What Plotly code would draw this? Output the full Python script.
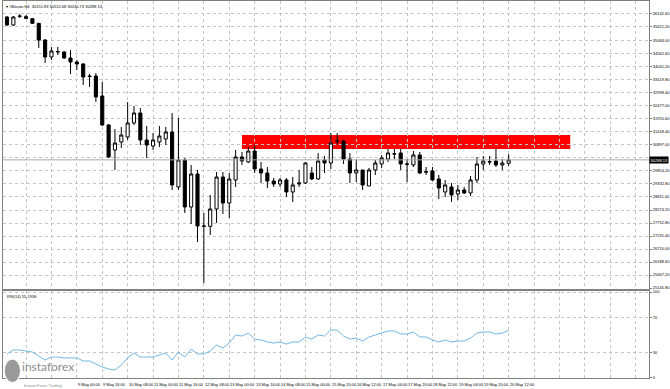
import plotly.graph_objects as go

# ---------------- data ----------------
opens = [36022, 35701, 36060, 36034, 35954, 35769, 35099, 34417, 34617, 34617,
         34377, 34216, 34136, 33654, 33654, 32852, 31688, 30684, 31006, 31206,
         31768, 32169, 31086, 30845, 31006, 31126, 31407, 29200, 30283, 28397,
         29721, 27635, 27620, 28317, 29601, 28558, 29481, 30404, 30203, 30644,
         29922, 29762, 29440, 29320, 29481, 28999, 29320, 29360, 29762, 29521,
         30283, 30163, 31046, 31046, 30323, 29762, 29882, 29240, 29882, 30123,
         30323, 30524, 30564, 30123, 30083, 30484, 29790, 29842, 29521, 28999,
         29200, 28919, 29079, 28959, 29481, 30123, 30203, 30243, 30083, 30151.83]
highs = [36062, 36062, 36143, 36102, 35982, 35781, 35139, 34818, 34818, 34658,
         34698, 34296, 34176, 33735, 33775, 33413, 31728, 31527, 31607, 32611,
         32450, 32370, 31648, 31367, 31648, 31607, 32169, 31969, 30363, 30083,
         29882, 28156, 28879, 29802, 29802, 29762, 30684, 30604, 30805, 30885,
         30203, 30002, 29561, 29561, 29561, 29601, 29882, 30203, 30002, 30564,
         30444, 31367, 31367, 31086, 30564, 30283, 29882, 29962, 30283, 30484,
         30725, 30725, 30725, 30323, 30644, 30604, 30002, 30002, 29681, 29481,
         29360, 29280, 29200, 29641, 30404, 30444, 30444, 30725, 30323, 30512.68]
lows = [35661, 35661, 35982, 35942, 35741, 34778, 34176, 34296, 34497, 34337,
        33735, 33895, 33293, 33213, 32611, 31648, 30363, 29882, 30765, 31086,
        31688, 30885, 30363, 30684, 30805, 30885, 29079, 29079, 28156, 27715,
        26993, 25347, 27273, 27755, 28116, 27956, 29200, 30083, 30163, 29762,
        29360, 29160, 29200, 29200, 28798, 28598, 29200, 29320, 29481, 29481,
        29762, 29922, 30925, 30123, 29360, 29400, 29079, 29240, 29681, 29962,
        30203, 30323, 29882, 29400, 30002, 29722, 29681, 29440, 28718, 28798,
        28598, 28678, 28919, 28839, 29360, 29882, 30083, 30002, 29882, 30030.73]
closes = [35701, 36022, 36050, 35970, 35769, 35099, 34417, 34658, 34638, 34377,
          34216, 34136, 33614, 33634, 32812, 31688, 30404, 30965, 31286, 31768,
          32169, 31086, 30885, 31086, 31246, 31407, 29280, 30283, 28397, 29721,
          27635, 27620, 28317, 29601, 28558, 29521, 30404, 30243, 30644, 29922,
          29762, 29440, 29320, 29481, 28999, 29280, 29360, 30163, 29521, 30243,
          30163, 30965, 31040, 30323, 29762, 29882, 29280, 29882, 30163, 30363,
          30564, 30530, 30123, 30115, 30484, 29762, 29810, 29481, 29160, 29280,
          28879, 29079, 28959, 29481, 30123, 30243, 30210, 30083, 30163, 30288.13]
rsi = [27.9, 32.6, 32.6, 31.4, 30.2, 25.6, 20.9, 24.4, 24.4, 23.3,
       23.3, 23.3, 19.8, 19.8, 16.3, 12.8, 10.5, 9.3, 15.1, 23.3,
       29.1, 24.4, 24.4, 24.4, 26.7, 29.1, 20.9, 30.2, 24.4, 33.7,
       27.9, 27.9, 31.4, 38.4, 34.9, 40.7, 50.0, 48.8, 52.3, 45.3,
       44.2, 41.9, 40.7, 41.9, 39.5, 41.9, 41.9, 47.7, 45.3, 50.0,
       48.8, 55.8, 55.8, 48.8, 45.3, 46.5, 43.0, 47.7, 50.0, 52.3,
       54.7, 54.7, 51.2, 51.2, 53.5, 47.7, 47.7, 44.2, 41.9, 44.2,
       41.9, 43.0, 43.0, 46.5, 52.3, 53.5, 53.5, 51.2, 52.3, 55.19]
bar_index = list(range(len(closes)))

time_label_index = [11, 15, 19, 23, 27, 31, 35, 39, 43, 47, 51, 55, 59, 63, 67, 71, 75, 79]
time_labels = ["9 May 00:00", "9 May 16:00", "10 May 08:00", "11 May 00:00", "11 May 16:00",
               "12 May 08:00", "13 May 00:00", "13 May 16:00", "14 May 08:00", "15 May 00:00",
               "15 May 20:00", "16 May 12:00", "17 May 04:00", "17 May 20:00", "18 May 12:00",
               "19 May 04:00", "19 May 20:00", "20 May 12:00"]
grid_index = list(range(-1, 101, 4))

price_ticks = [36142.60, 35621.20, 35084.00, 34562.60, 34041.20, 33519.80, 32998.40,
               32477.00, 31955.60, 31418.40, 30897.00, 30375.60, 29854.20, 29332.80,
               28811.40, 28274.20, 27752.80, 27231.40, 26710.00, 26188.60, 25667.20, 25145.80]
rsi_ticks = [0, 30, 70, 100]

zone_start, zone_end = 37, 88.7
zone_top, zone_bottom = 31286, 30725

title_text = "#Bitcoin,H4  30151.83 30512.68 30030.73 30288.13"
rsi_text = "RSI(14) 55.1936"
last_price = closes[-1]

# ---------------- figure ----------------
FONT = "Liberation Sans, Arial, sans-serif"
GRID = "#c4c4c4"
FRAME = "#808080"
FS = 4

# the current-price label covers the axis label nearest to it
price_ticktext = ["" if abs(v - last_price) < 150 else f"{v:.2f}" for v in price_ticks]

fig = go.Figure()
fig.add_trace(go.Candlestick(
    x=bar_index, open=opens, high=highs, low=lows, close=closes,
    increasing=dict(line=dict(color="black", width=1), fillcolor="white"),
    decreasing=dict(line=dict(color="black", width=1), fillcolor="black"),
    whiskerwidth=0, xaxis="x", yaxis="y", showlegend=False, hoverinfo="skip"))
fig.add_trace(go.Scatter(
    x=bar_index, y=rsi, mode="lines", line=dict(color="#72b6e2", width=1),
    xaxis="x2", yaxis="y2", showlegend=False, hoverinfo="skip"))

xr = [-0.63, 101.1]
common_x = dict(range=xr, tickvals=grid_index, ticktext=[""] * len(grid_index),
                showgrid=True, gridcolor=GRID, griddash="dot", gridwidth=1,
                showline=True, linecolor=FRAME, linewidth=1, mirror=True,
                zeroline=False, ticks="", fixedrange=True)
common_y = dict(side="right", showgrid=True, gridcolor=GRID, griddash="dot",
                showline=True, linecolor=FRAME, mirror=True, zeroline=False,
                ticks="outside", ticklen=2, tickcolor=FRAME, fixedrange=True,
                tickfont=dict(size=FS, family=FONT, color="black"))
fig.update_layout(
    width=670, height=389,
    margin=dict(l=3, r=21, t=1, b=11, autoexpand=False),
    paper_bgcolor="white", plot_bgcolor="white",
    font=dict(family=FONT, size=FS, color="black"),
    xaxis=dict(domain=[0, 1], anchor="y", rangeslider=dict(visible=False), **common_x),
    xaxis2=dict(domain=[0, 1], anchor="y2", matches="x", **common_x),
    yaxis=dict(domain=[0.2361, 1], range=[25106, 36664],
               tickvals=price_ticks, ticktext=price_ticktext, **common_y),
    yaxis2=dict(domain=[0, 0.2308], range=[0, 101.2],
                tickvals=rsi_ticks, ticktext=[str(v) for v in rsi_ticks], **common_y),
)

shapes = [
    dict(type="rect", xref="x", yref="y", x0=zone_start, x1=zone_end,
         y0=zone_bottom, y1=zone_top, fillcolor="#ff0000", line=dict(width=0), layer="below"),
    dict(type="line", xref="paper", yref="y", x0=0, x1=1, y0=last_price, y1=last_price,
         line=dict(color="#a8a8a8", width=1)),
    dict(type="line", xref="paper", yref="paper", x0=0, x1=1, y0=0.2335, y1=0.2335,
         line=dict(color=FRAME, width=2)),
    dict(type="circle", xref="paper", yref="paper", x0=0.002, x1=0.027, y0=-0.012, y1=0.05,
         fillcolor="#9a9a9a", line=dict(color="white", width=1)),
]
fig.update_layout(shapes=shapes)

ann = []
for i, t in zip(time_label_index, time_labels):
    ann.append(dict(x=i, xref="x2", y=0, yref="paper", text=t, showarrow=False,
                    xanchor="left", yanchor="top", yshift=-1.5, xshift=-1,
                    font=dict(size=FS, family=FONT, color="black")))
ann.append(dict(x=1, xref="paper", y=last_price, yref="y", text=f"{last_price:.2f}",
                showarrow=False, xanchor="left", xshift=0, bgcolor="black",
                font=dict(size=FS, family=FONT, color="white"), borderpad=0.5))
ann.append(dict(x=0, xref="paper", y=1, yref="paper", text="▾ " + title_text,
                showarrow=False, xanchor="left", yanchor="top", xshift=1, yshift=-1,
                font=dict(size=FS, family=FONT, color="black")))
ann.append(dict(x=0, xref="paper", y=0.2308, yref="paper", text=rsi_text,
                showarrow=False, xanchor="left", yanchor="top", xshift=2, yshift=-1,
                font=dict(size=FS, family=FONT, color="black")))
ann.append(dict(x=0.027, xref="paper", y=0.055, yref="paper", text="instaforex",
                showarrow=False, xanchor="left", yanchor="top",
                font=dict(size=12, family="Lato, " + FONT, color="#8e8e8e")))
ann.append(dict(x=0.03, xref="paper", y=-0.008, yref="paper", text="Instant Forex Trading",
                showarrow=False, xanchor="left", yanchor="top",
                font=dict(size=4, family=FONT, color="#8e8e8e")))
fig.update_layout(annotations=ann)

fig.write_html("out.html", config={"displayModeBar": False},
               post_script="document.body.style.margin='0';document.body.style.overflow='hidden';")
